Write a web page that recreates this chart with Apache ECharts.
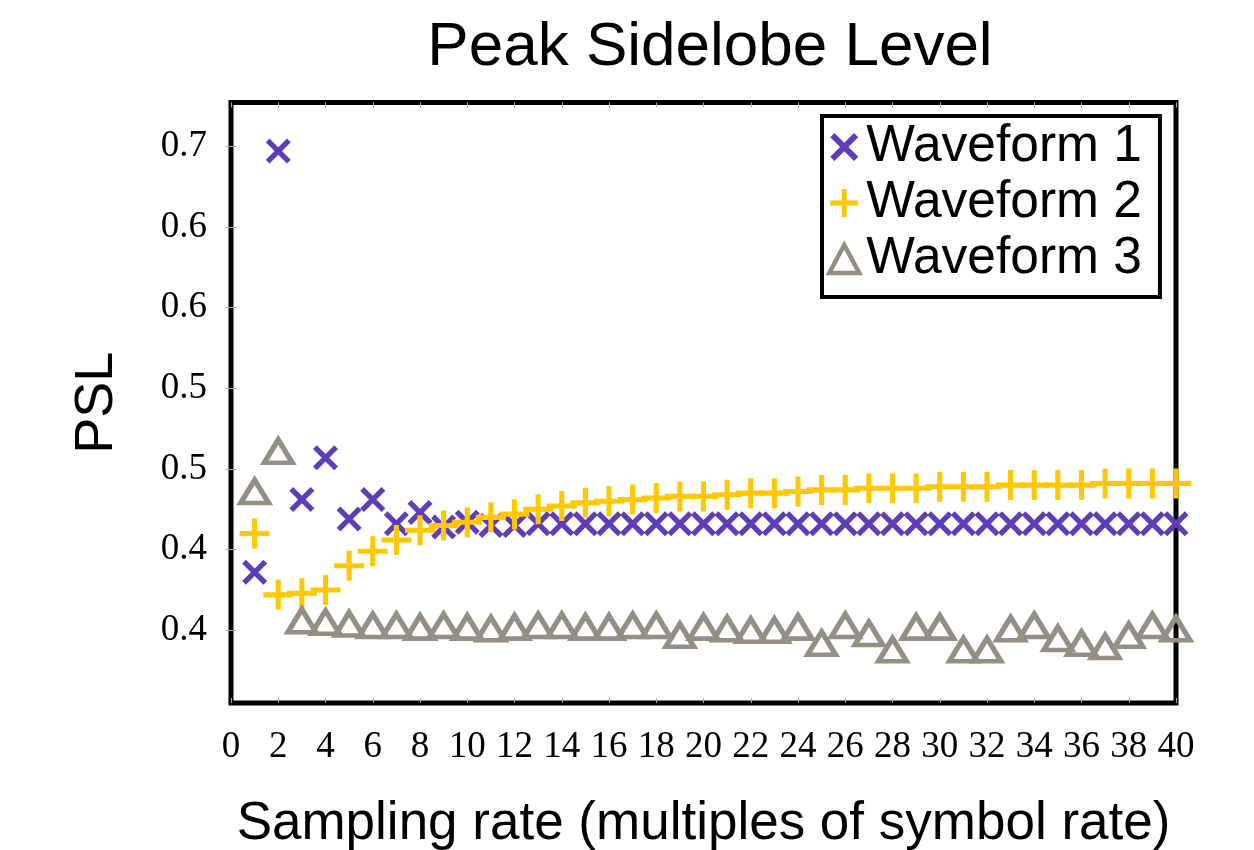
<!DOCTYPE html>
<html>
<head>
<meta charset="utf-8" />
<title>Peak Sidelobe Level</title>
<script src="https://cdn.jsdelivr.net/npm/echarts@6/dist/echarts.min.js"></script>
<style>
  html, body { margin: 0; padding: 0; background: #fff; }
  #myChart { width: 1254px; height: 850px; }
</style>
</head>
<body>
<div id="myChart"></div>
<script>
// sampling rate (x values)
const rates = [1, 2, 3, 4, 5, 6, 7, 8, 9, 10, 11, 12, 13, 14, 15, 16, 17, 18, 19, 20,
  21, 22, 23, 24, 25, 26, 27, 28, 29, 30, 31, 32, 33, 34, 35, 36, 37, 38, 39, 40];

const waveform1 = [0.436, 0.697, 0.481, 0.507, 0.469, 0.481, 0.466, 0.473, 0.464, 0.467,
  0.465, 0.465, 0.466, 0.466, 0.466, 0.466, 0.466, 0.466, 0.466, 0.466,
  0.466, 0.466, 0.466, 0.466, 0.466, 0.466, 0.466, 0.466, 0.466, 0.466,
  0.466, 0.466, 0.466, 0.466, 0.466, 0.466, 0.466, 0.466, 0.466, 0.466];

const waveform2 = [0.460, 0.422, 0.423, 0.425, 0.440, 0.449, 0.456, 0.462, 0.465, 0.467,
  0.470, 0.472, 0.475, 0.477, 0.479, 0.480, 0.481, 0.482, 0.483, 0.483,
  0.484, 0.485, 0.485, 0.486, 0.487, 0.487, 0.488, 0.488, 0.488, 0.489,
  0.489, 0.489, 0.490, 0.490, 0.490, 0.490, 0.491, 0.491, 0.491, 0.491];

const waveform3 = [0.486, 0.511, 0.406, 0.405, 0.404, 0.403, 0.403, 0.402, 0.403, 0.402,
  0.401, 0.402, 0.403, 0.403, 0.402, 0.402, 0.403, 0.403, 0.397, 0.402,
  0.401, 0.400, 0.400, 0.402, 0.392, 0.403, 0.398, 0.388, 0.402, 0.402,
  0.388, 0.388, 0.401, 0.403, 0.395, 0.392, 0.390, 0.397, 0.403, 0.401];

// y ticks and the (rounded) labels printed next to them
const yTickValues = [0.40, 0.45, 0.50, 0.55, 0.60, 0.65, 0.70];
const yTickLabels = ["0.4", "0.4", "0.5", "0.5", "0.6", "0.6", "0.7"];

const seriesNames = ["Waveform 1", "Waveform 2", "Waveform 3"];

const crossIcon = "path://M0,3 L3,0 L10,7 L17,0 L20,3 L13,10 L20,17 L17,20 L10,13 L3,20 L0,17 L7,10 Z";
const plusIcon = "path://M8.3,0 H11.7 V8.3 H20 V11.7 H11.7 V20 H8.3 V11.7 H0 V8.3 H8.3 Z";

const pairs = (ys) => rates.map((x, i) => [x, ys[i]]);

const chart = echarts.init(document.getElementById("myChart"));

const tickStyle = { show: true, inside: true, length: 5, lineStyle: { color: "#aaa", width: 1 } };

const options = {
  animation: false,
  title: {
    text: "Peak Sidelobe Level",
    left: 705,
    top: 12,
    textAlign: "center",
    textStyle: { fontFamily: "Liberation Sans", fontSize: 62, fontWeight: "normal", color: "#000" },
  },
  legend: {
    orient: "vertical",
    left: 822,
    top: 116,
    padding: [3, 18, 10, 5],
    itemGap: 0,
    itemWidth: 30,
    itemHeight: 28,
    borderColor: "#000",
    borderWidth: 4,
    backgroundColor: "#fff",
    textStyle: { fontFamily: "Liberation Sans", fontSize: 51.5, lineHeight: 56, color: "#000", padding: [0, 0, 0, 2] },
    data: [
      { name: seriesNames[0] },
      { name: seriesNames[1] },
      { name: seriesNames[2], itemStyle: { borderWidth: 4.5, borderColor: "#958f83" } },
    ],
  },
  grid: {
    left: 231,
    right: 78,
    top: 102.5,
    bottom: 147,
    outerBoundsMode: "none",
    show: true,
    borderColor: "#000",
    borderWidth: 5,
    backgroundColor: "#fff",
  },
  xAxis: [
    {
      type: "value",
      min: 0,
      max: 40,
      interval: 2,
      name: "Sampling rate (multiples of symbol rate)",
      nameLocation: "middle",
      nameGap: 95,
      nameTextStyle: { fontFamily: "Liberation Sans", fontSize: 53, color: "#000" },
      axisLine: { show: false },
      axisTick: tickStyle,
      splitLine: { show: false },
      axisLabel: { fontFamily: "Liberation Serif", fontSize: 37, color: "#000", margin: 26 },
    },
    {
      type: "value",
      position: "top",
      min: 0,
      max: 40,
      interval: 2,
      axisLine: { show: false },
      axisTick: tickStyle,
      splitLine: { show: false },
      axisLabel: { show: false },
    },
  ],
  yAxis: [
    {
      type: "value",
      min: 0.355,
      max: 0.727,
      name: "PSL",
      nameLocation: "middle",
      nameGap: 107,
      nameTextStyle: { fontFamily: "Liberation Sans", fontSize: 54, color: "#000" },
      axisLine: { show: false },
      axisTick: Object.assign({ customValues: yTickValues }, tickStyle),
      splitLine: { show: false },
      axisLabel: {
        customValues: yTickValues,
        fontFamily: "Liberation Serif",
        fontSize: 37,
        color: "#000",
        margin: 24,
        formatter: function (value) {
          let best = 0;
          yTickValues.forEach((v, i) => {
            if (Math.abs(v - value) < Math.abs(yTickValues[best] - value)) best = i;
          });
          return yTickLabels[best];
        },
      },
    },
    {
      type: "value",
      position: "right",
      min: 0.355,
      max: 0.727,
      axisLine: { show: false },
      axisTick: Object.assign({ customValues: yTickValues }, tickStyle),
      splitLine: { show: false },
      axisLabel: { show: false },
    },
  ],
  series: [
    {
      name: seriesNames[0],
      type: "scatter",
      clip: false,
      symbol: crossIcon,
      symbolSize: 25,
      itemStyle: { color: "#5f3dba", opacity: 1 },
      data: pairs(waveform1),
    },
    {
      name: seriesNames[1],
      type: "scatter",
      clip: false,
      symbol: plusIcon,
      symbolSize: 30,
      itemStyle: { color: "#ffc800", opacity: 1 },
      data: pairs(waveform2),
    },
    {
      name: seriesNames[2],
      type: "scatter",
      clip: false,
      symbol: "triangle",
      symbolSize: [28, 23],
      itemStyle: { color: "rgba(255,255,255,0)", borderColor: "#958f83", borderWidth: 5, opacity: 1 },
      data: pairs(waveform3),
    },
  ],
};

chart.setOption(options);
</script>
</body>
</html>
